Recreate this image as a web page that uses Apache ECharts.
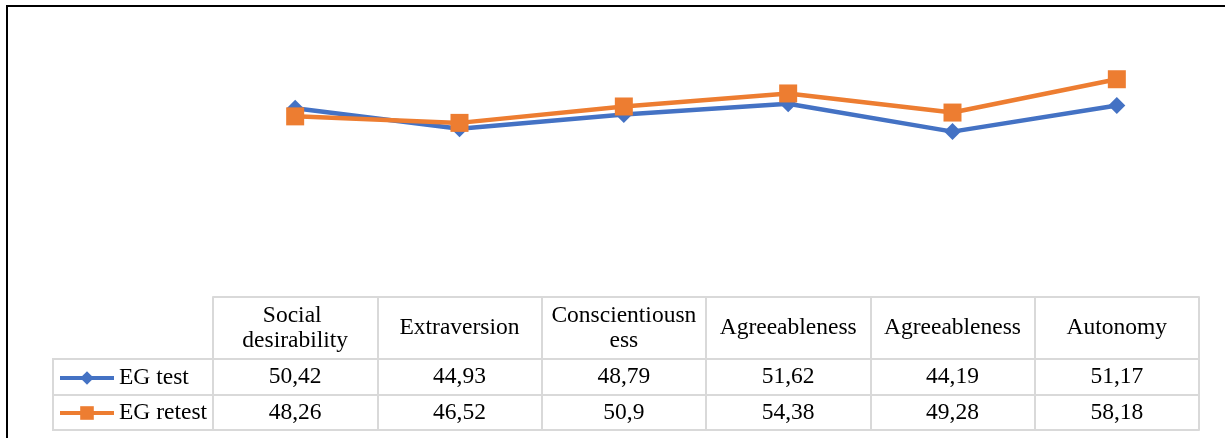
<!DOCTYPE html>
<html>
<head>
<meta charset="utf-8">
<script src="https://cdn.jsdelivr.net/npm/echarts@6/dist/echarts.min.js"></script>
<style>
html,body{margin:0;padding:0;background:#fff;}
#chart{width:1225px;height:438px;}
</style>
</head>
<body>
<div id="chart"></div>
<script>
const categories = ['Social desirability', 'Extraversion', 'Conscientiousness', 'Agreeableness', 'Agreeableness', 'Autonomy'];
const egTest = [50.42, 44.93, 48.79, 51.62, 44.19, 51.17];
const egRetest = [48.26, 46.52, 50.9, 54.38, 49.28, 58.18];
const seriesNames = ['EG test', 'EG retest'];

const FONT = 'Liberation Serif, Times New Roman, serif';
const FS = 23.5;
const GRID_COLOR = '#d9d9d9';
const fmt = v => String(v).replace('.', ',');

const chart = echarts.init(document.getElementById('chart'), null, {renderer: 'canvas'});

function tableAxis(values, offset, margin, showLabel) {
  return {
    type: 'category',
    data: categories,
    position: 'bottom',
    offset: offset,
    boundaryGap: true,
    axisLine: {show: true, lineStyle: {color: GRID_COLOR, width: 2}},
    axisTick: {show: false},
    axisLabel: {
      show: showLabel,
      interval: 0,
      margin: margin,
      verticalAlign: 'middle',
      color: '#000',
      fontFamily: FONT,
      fontSize: FS,
      formatter: (v, i) => values ? fmt(values[i]) : ''
    },
    splitLine: {show: false}
  };
}

function legendFor(name, top) {
  return {
    data: [name], left: 58, top: top, orient: 'vertical', padding: 0,
    itemWidth: 54, itemHeight: 17, itemGap: 8,
    lineStyle: {width: 4},
    textStyle: {fontFamily: FONT, fontSize: FS, color: '#000', lineHeight: 22}
  };
}

const option = {
  animation: false,
  backgroundColor: '#fff',
  grid: {left: 213, right: 26, top: 35, bottom: 141, containLabel: false},
  xAxis: [
    {
      type: 'category',
      data: categories,
      position: 'bottom',
      boundaryGap: true,
      axisLine: {show: true, lineStyle: {color: GRID_COLOR, width: 2}},
      axisTick: {show: true, alignWithLabel: false, interval: 0, length: 133, lineStyle: {color: GRID_COLOR, width: 2}},
      axisLabel: {
        interval: 0,
        margin: 31,
        verticalAlign: 'middle',
        color: '#000',
        fontFamily: FONT,
        fontSize: FS,
        lineHeight: 25,
        width: 150,
        overflow: 'break'
      },
      splitLine: {show: false}
    },
    tableAxis(egTest, 62, 18, true),
    tableAxis(egRetest, 98, 17.5, true),
    tableAxis(null, 133, 10, false)
  ],
  yAxis: {type: 'value', min: 0, max: 70, show: false},
  legend: [legendFor(seriesNames[0], 366), legendFor(seriesNames[1], 401)],
  graphic: [
    {type: 'rect', shape: {x: 7, y: 6, width: 1400, height: 600}, style: {fill: null, stroke: '#000', lineWidth: 2}, silent: true, z: 100},
    {type: 'polyline', shape: {points: [[213, 359], [53, 359], [53, 430], [213, 430]]}, style: {fill: null, stroke: GRID_COLOR, lineWidth: 2}, silent: true},
    {type: 'line', shape: {x1: 53, y1: 395, x2: 213, y2: 395}, style: {stroke: GRID_COLOR, lineWidth: 2}, silent: true}
  ],
  series: [
    {
      name: seriesNames[0], type: 'line', data: egTest,
      symbol: 'diamond', symbolSize: 17,
      lineStyle: {color: '#4472C4', width: 4.5},
      itemStyle: {color: '#4472C4'}
    },
    {
      name: seriesNames[1], type: 'line', data: egRetest,
      symbol: 'rect', symbolSize: 18,
      lineStyle: {color: '#ED7D31', width: 4.5},
      itemStyle: {color: '#ED7D31'}
    }
  ]
};
chart.setOption(option);
</script>
</body>
</html>
